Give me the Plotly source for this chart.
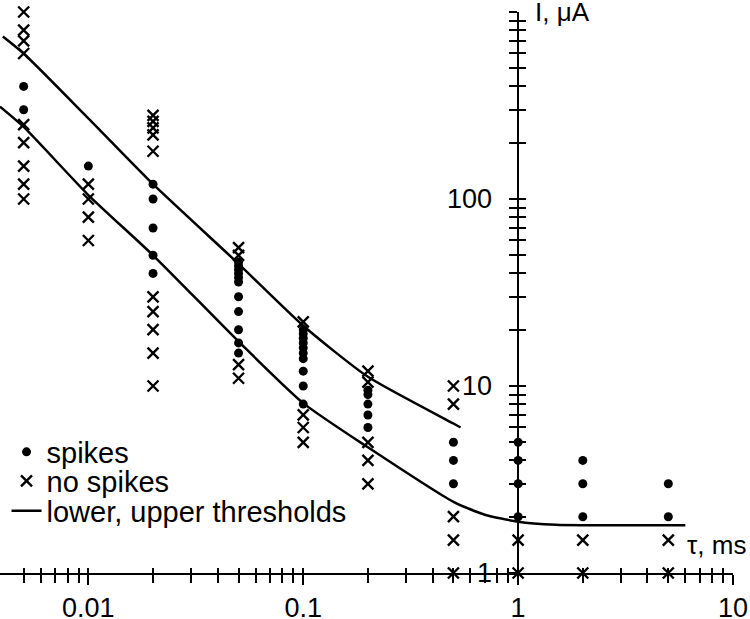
import math
import plotly.graph_objects as go

# ---- data ----
spike_tau = [0.005, 0.005,
             0.01,
             0.02, 0.02, 0.02, 0.02, 0.02,
             0.05, 0.05, 0.05, 0.05, 0.05, 0.05, 0.05, 0.05, 0.05, 0.05, 0.05,
             0.1, 0.1, 0.1, 0.1, 0.1, 0.1, 0.1, 0.1, 0.1, 0.1,
             0.2, 0.2, 0.2, 0.2, 0.2,
             0.5, 0.5, 0.5,
             1, 1, 1, 1,
             2, 2, 2,
             5, 5]
spike_I = [400, 300,
           150,
           120, 100, 70, 50, 40,
           46, 44, 42, 40, 38, 36, 30, 25, 20, 17, 15,
           20, 19, 18, 17, 16, 15, 14, 12, 10, 8,
           9.5, 9, 8, 7, 6,
           5, 4, 3,
           5, 4, 3, 2,
           4, 3, 2,
           3, 2]

nospike_tau = [0.005] * 9 + [0.01] * 4 + [0.02] * 10 + [0.05] * 4 + [0.1] * 4 + \
              [0.2] * 5 + [0.5] * 5 + [1] * 2 + [2] * 2 + [5] * 2
nospike_I = [1000, 800, 700, 600, 250, 200, 150, 120, 100,
             120, 100, 80, 60,
             280, 260, 240, 220, 180, 30, 25, 20, 15, 10,
             55, 50, 13, 11,
             22, 7, 6, 5,
             12, 10.5, 5, 4, 3,
             10, 8, 2, 1.5, 1,
             1.5, 1,
             1.5, 1,
             1.5, 1]

upper_tau = [0.004, 0.005, 0.01, 0.02, 0.05, 0.1, 0.2, 0.5, 0.54]
upper_I = [740, 600, 270, 120, 45, 21, 11.2, 6.3, 6.0]

lower_tau = [0.00388, 0.005, 0.01, 0.02, 0.05, 0.1, 0.2, 0.5, 0.7, 1, 1.5, 2, 6]
lower_I = [312, 243, 105, 50, 17.3, 8.1, 4.7, 2.4, 2.05, 1.88, 1.81, 1.8, 1.8]

x_major = [0.01, 0.1, 1, 10]
x_major_text = ["0.01", "0.1", "1", "10"]
x_minor = [0.005, 0.006, 0.007, 0.008, 0.009,
           0.02, 0.03, 0.04, 0.05, 0.06, 0.07, 0.08, 0.09,
           0.2, 0.3, 0.4, 0.5, 0.6, 0.7, 0.8, 0.9,
           2, 3, 4, 5, 6, 7, 8, 9]
y_major = [1, 10, 100, 1000]
y_major_text = ["1", "10", "100", "1000"]
y_minor = [2, 3, 4, 5, 6, 7, 8, 9,
           20, 30, 40, 50, 60, 70, 80, 90,
           200, 300, 400, 500, 600, 700, 800, 900]

x_range = [math.log10(0.00388), 1]
y_range = [0, 3]
ypos = (0 - x_range[0]) / (x_range[1] - x_range[0])

FONT = "Liberation Sans, Arial, sans-serif"
BLACK = "#000000"

fig = go.Figure()
fig.add_trace(go.Scatter(
    x=spike_tau, y=spike_I, mode="markers", name="spikes",
    marker=dict(symbol="circle", size=9, color=BLACK),
    cliponaxis=False, xaxis="x", yaxis="y", legend="legend"))
fig.add_trace(go.Scatter(
    x=nospike_tau, y=nospike_I, mode="markers", name="no spikes",
    marker=dict(symbol="x-thin", size=11, line=dict(width=2.4, color=BLACK), color=BLACK),
    cliponaxis=False, xaxis="x", yaxis="y", legend="legend2"))
fig.add_trace(go.Scatter(
    x=lower_tau, y=lower_I, mode="lines", name="lower, upper thresholds",
    line=dict(color=BLACK, width=2.5, shape="spline", smoothing=0.6),
    legendgroup="thr", xaxis="x2", yaxis="y2", legend="legend3"))
fig.add_trace(go.Scatter(
    x=upper_tau, y=upper_I, mode="lines", name="upper threshold",
    line=dict(color=BLACK, width=2.5, shape="spline", smoothing=0.6),
    legendgroup="thr", showlegend=False, xaxis="x2", yaxis="y2", legend="legend3"))

common_x = dict(type="log", range=x_range, showgrid=False, zeroline=False,
                tickvals=x_major, ticktext=x_major_text, automargin=False)
common_y = dict(type="log", range=y_range, showgrid=False, zeroline=False,
                tickvals=y_major, ticktext=y_major_text, automargin=False)

def leg(ycen):
    return dict(x=0.0089, y=ycen, xanchor="left", yanchor="middle",
                bgcolor="rgba(0,0,0,0)", font=dict(size=29), itemwidth=30,
                borderwidth=0)

fig.update_layout(
    width=750, height=619,
    margin=dict(l=0, r=17, t=12, b=46),
    paper_bgcolor="white", plot_bgcolor="white",
    font=dict(family=FONT, size=27, color=BLACK),
    showlegend=True,
    legend=leg(0.2157),
    legend2=leg(0.164),
    legend3=leg(0.1105),
    xaxis=dict(**common_x, anchor="y", showline=True, linecolor=BLACK, linewidth=1.5,
               ticks="outside", ticklen=10, tickwidth=1.5, tickcolor=BLACK,
               tickfont=dict(size=27), ticklabelstandoff=0,
               minor=dict(tickvals=x_minor, ticks="outside", ticklen=8,
                          tickwidth=1.5, tickcolor=BLACK)),
    xaxis2=dict(**common_x, overlaying="x", anchor="y2", side="bottom",
                showline=False, showticklabels=False,
                ticks="inside", ticklen=5, tickwidth=1.5, tickcolor=BLACK,
                minor=dict(tickvals=x_minor, ticks="inside", ticklen=5,
                           tickwidth=1.5, tickcolor=BLACK)),
    yaxis=dict(**common_y, anchor="free", position=ypos, showline=True,
               linecolor=BLACK, linewidth=1.5,
               ticks="outside", ticklen=8, tickwidth=1.5, tickcolor=BLACK,
               tickfont=dict(size=27), ticklabelstandoff=12,
               minor=dict(tickvals=y_minor, ticks="outside", ticklen=8,
                          tickwidth=1.5, tickcolor=BLACK)),
    yaxis2=dict(**common_y, overlaying="y", anchor="free", position=ypos,
                showline=False, showticklabels=False,
                ticks="inside", ticklen=7, tickwidth=1.5, tickcolor=BLACK,
                minor=dict(tickvals=y_minor, ticks="inside", ticklen=7,
                           tickwidth=1.5, tickcolor=BLACK)),
    annotations=[
        dict(text="I, μA", x=0, y=3, xref="x", yref="y", xanchor="left",
             yanchor="middle", xshift=15, showarrow=False, font=dict(size=26)),
        dict(text="τ, ms", x=1, y=0.15, xref="x", yref="y", xanchor="right",
             yanchor="middle", xshift=15, showarrow=False, font=dict(size=26)),
    ],
)

# remove the browser's default 8px page margin so the figure fills the window
fig.write_html("out.html",
               config={"displayModeBar": False},
               post_script="document.body.style.margin='0';"
                           "document.body.style.overflow='hidden';")
